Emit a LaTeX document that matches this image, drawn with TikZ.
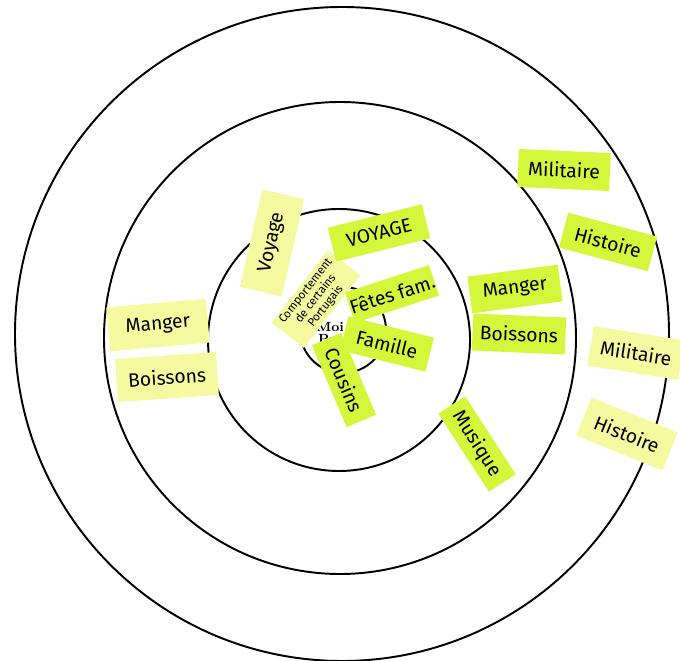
\documentclass[tikz,border=0pt]{standalone}
\usepackage{fontspec}
\usepackage{tikz}
\newfontfamily\hand{Fira Sans}
\definecolor{limenote}{RGB}{214,246,60}
\definecolor{palenote}{RGB}{245,250,160}
\tikzstyle{lime} = [fill=limenote, draw=none, inner sep=0pt, font=\hand\fontsize{11}{13}\selectfont]
\tikzstyle{pale} = [fill=palenote, draw=none, inner sep=0pt, font=\hand\fontsize{11}{13}\selectfont]
\tikzstyle{ring} = [line width=1.1pt, black]

\begin{document}
\begin{tikzpicture}[x=0.02cm, y=-0.02cm]
	\useasboundingbox (0,0) rectangle (680,661);
	\fill[white] (0,0) rectangle (680,661);

	% target rings
	\foreach \cx/\cy/\r in {342/334/327, 340/338/236, 339/340/131, 343/330/43}{
		\draw [ring] (\cx,\cy) circle (\r);
	}
	\node [font=\bfseries\fontsize{7.5}{8}\selectfont, inner sep=0pt] (moi) at (330,327) {Moi};
	\node [font=\bfseries\fontsize{7.5}{8}\selectfont, inner sep=0pt] (pe)  at (327,339) {Pe};

	% outer ring
	\node [lime, minimum width=1.84cm, minimum height=0.76cm, rotate=-2.5] (MilitaireA) at (564,170) {Militaire};
	\node [lime, minimum width=1.84cm, minimum height=0.72cm, rotate=-15]  (HistoireA)  at (608,242) {Histoire};
	\node [pale, minimum width=1.84cm, minimum height=0.80cm, rotate=-9]   (MilitaireB) at (636,353) {Militaire};
	\node [pale, minimum width=1.86cm, minimum height=0.82cm, rotate=-22]  (HistoireB)  at (627,434) {Histoire};

	% middle ring
	\node [lime, minimum width=1.82cm, minimum height=0.74cm, rotate=7.5]  (MangerA)    at (515,289) {Manger};
	\node [lime, minimum width=1.86cm, minimum height=0.74cm, rotate=-2.5] (BoissonsA)  at (519,334) {Boissons};
	\node [lime, minimum width=1.86cm, minimum height=0.64cm, rotate=-57]  (Musique)    at (477,444) {Musique};
	\node [pale, minimum width=2.00cm, minimum height=0.88cm, rotate=5]    (MangerB)    at (158,325) {Manger};
	\node [pale, minimum width=2.02cm, minimum height=0.86cm, rotate=4]    (BoissonsB)  at (167,377) {Boissons};

	% inner ring
	\node [pale, minimum width=2.00cm, minimum height=0.86cm, rotate=77]   (VoyageB)    at (272,243) {Voyage};
	\node [pale, minimum width=1.84cm, minimum height=0.82cm, rotate=52, align=center,
		font=\hand\fontsize{6.6}{7.2}\selectfont] (Comportement) at (316,299) {Comportement\\de certains\\Portugais};
	\node [lime, minimum width=1.94cm, minimum height=0.70cm, rotate=14]   (VoyageA)    at (379,233) {VOYAGE};
	\node [lime, minimum width=1.76cm, minimum height=0.70cm, rotate=-14]  (Famille)    at (387,344) {Famille};
	\node [lime, minimum width=1.76cm, minimum height=0.64cm, rotate=18]   (Fetes)      at (392,294) {Fêtes fam.};
	\node [lime, minimum width=1.78cm, minimum height=0.64cm, rotate=-67]  (Cousins)    at (344,380) {Cousins};

\end{tikzpicture}
\end{document}
